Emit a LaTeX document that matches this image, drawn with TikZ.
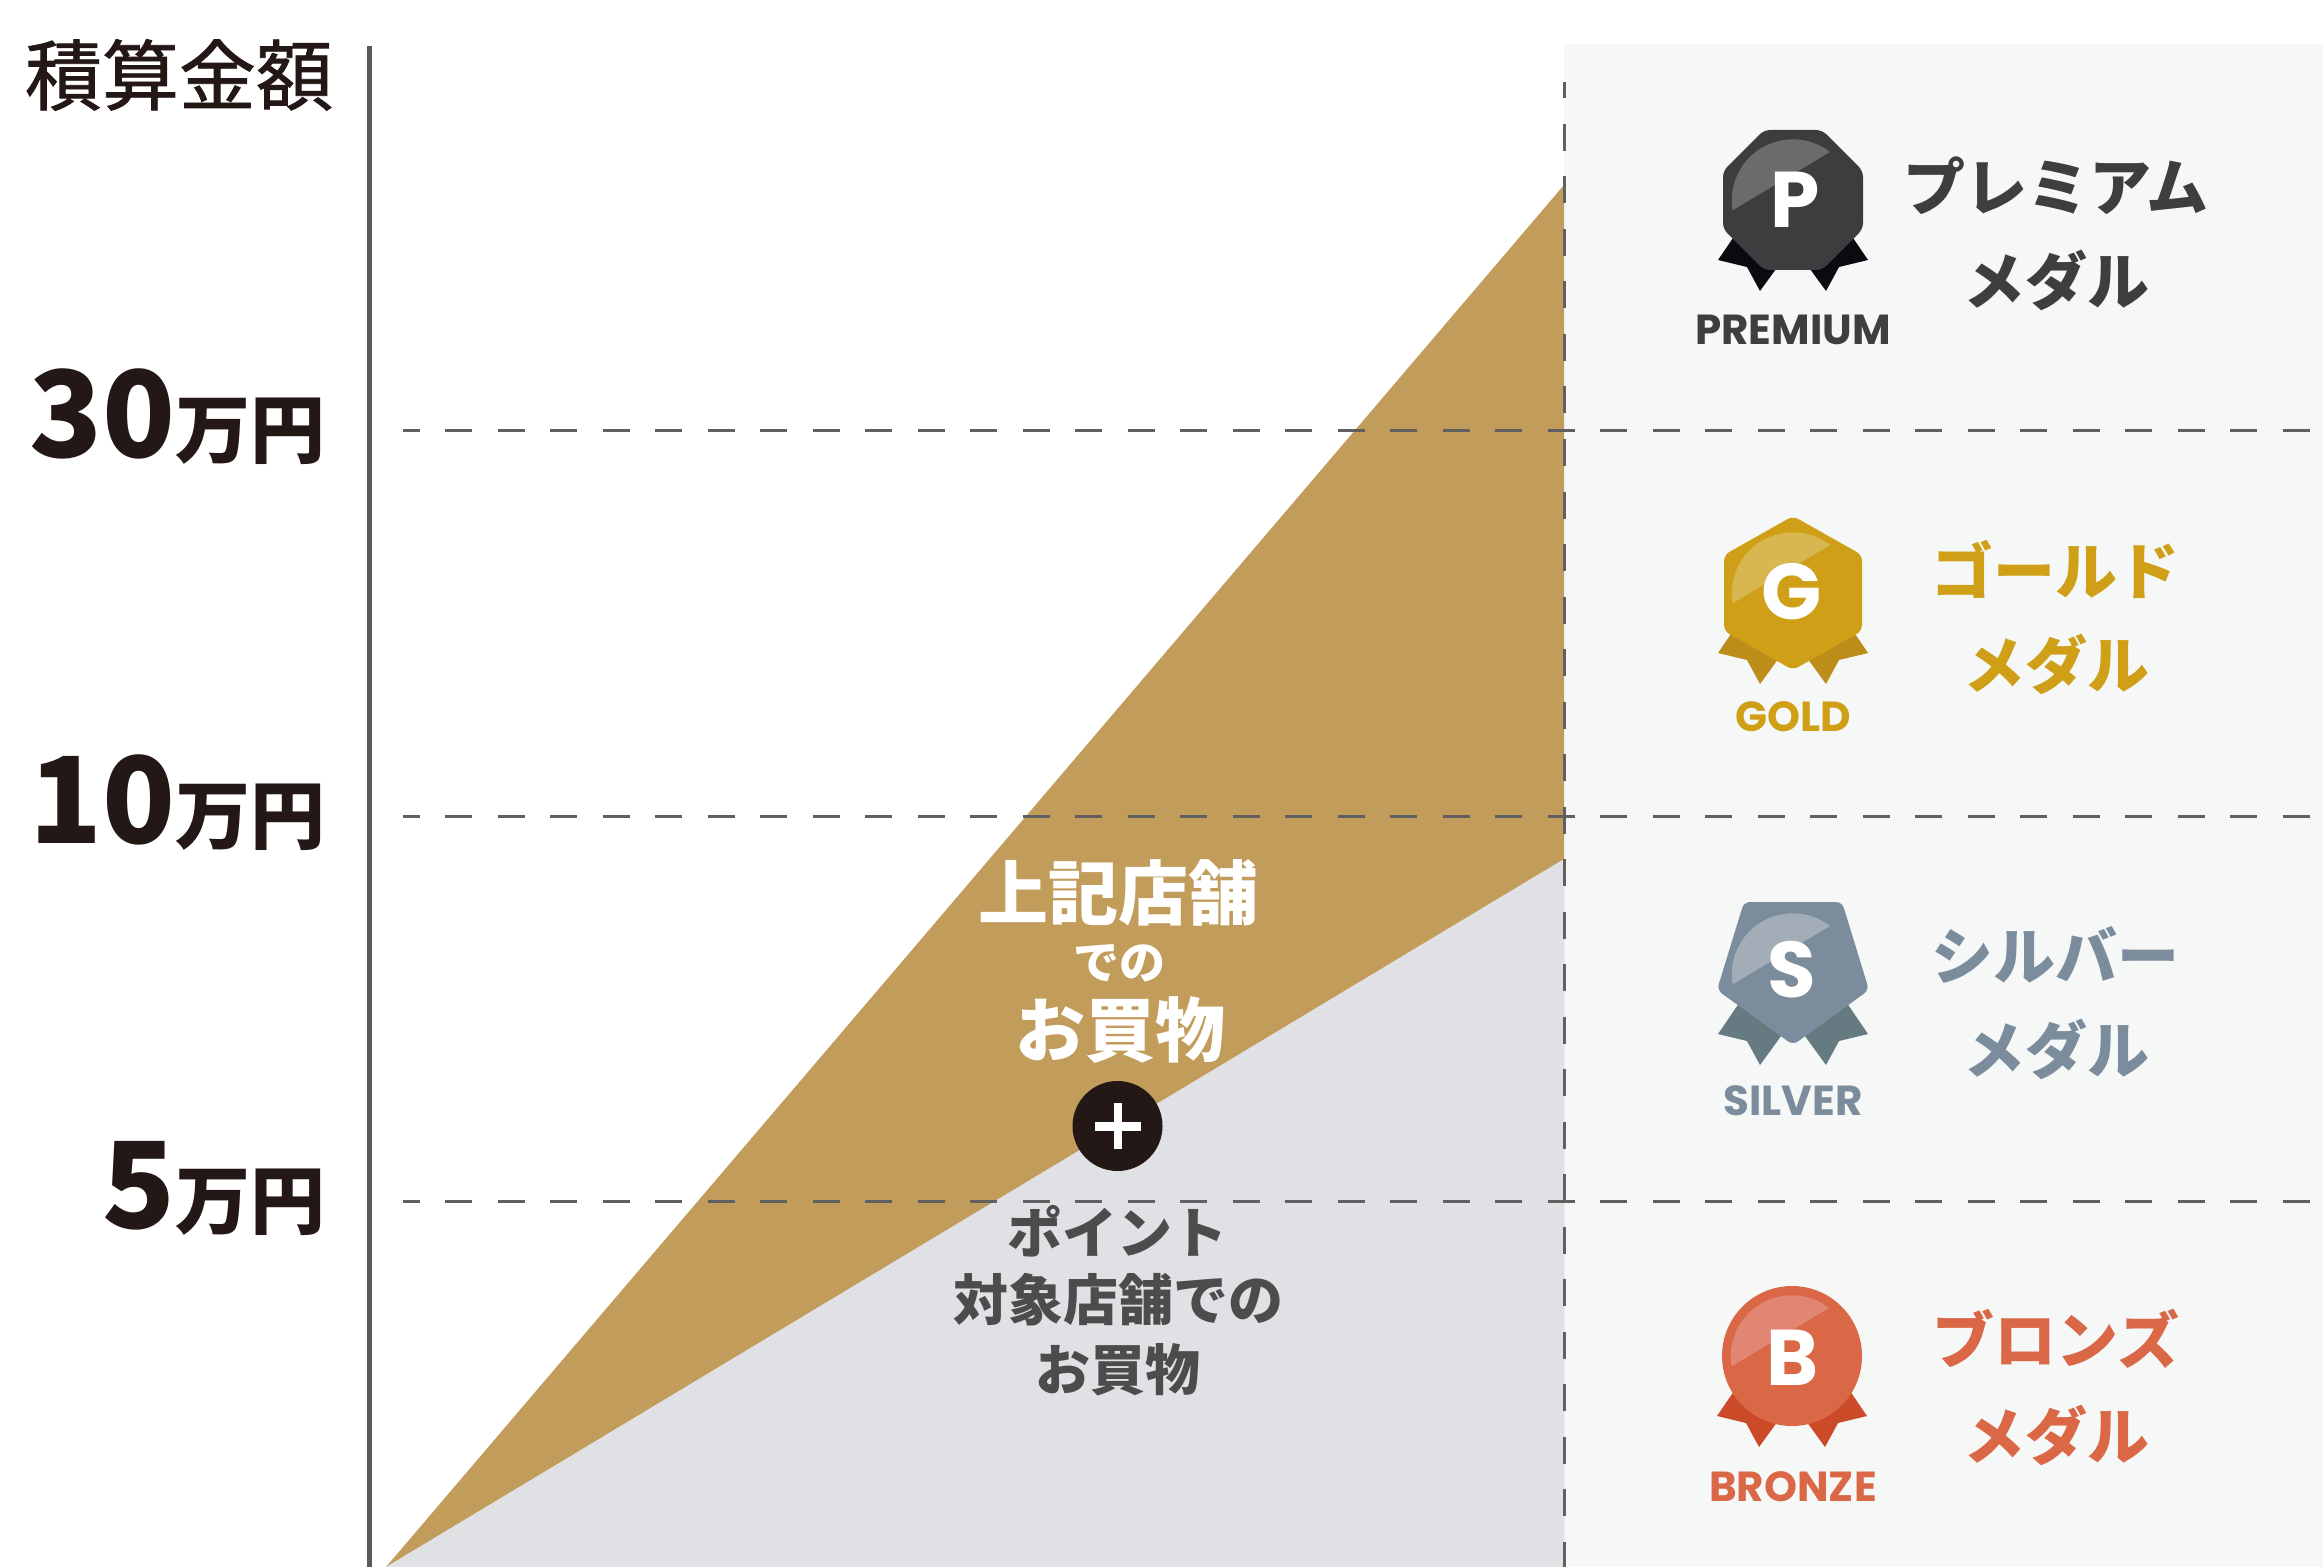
\documentclass[tikz,border=0pt]{standalone}
\usepackage{fontspec}
\newfontfamily\jp{Noto Sans CJK JP}
\newfontfamily\jpm{Noto Sans CJK JP}[FakeBold=1.0]
\newfontfamily\pop{Poppins}
\definecolor{ink}{HTML}{231815}
\definecolor{panelc}{HTML}{F6F7F7}
\definecolor{goldarea}{HTML}{C29C5A}
\definecolor{grayarea}{HTML}{E0E1E5}
\definecolor{axisc}{HTML}{5A5A5A}
\definecolor{dashc}{HTML}{606060}
\definecolor{lowtext}{HTML}{4D4B4B}
\definecolor{prem}{HTML}{3D3D3F}
\definecolor{premhi}{HTML}{6B6B6B}
\definecolor{premrib}{HTML}{0B0A10}
\definecolor{premtxt}{HTML}{3E3E3E}
\definecolor{gold}{HTML}{CFA017}
\definecolor{goldhi}{HTML}{D8B650}
\definecolor{goldrib}{HTML}{BC8D18}
\definecolor{silv}{HTML}{7B8C9C}
\definecolor{silvhi}{HTML}{A3ADB8}
\definecolor{silvrib}{HTML}{667A82}
\definecolor{bron}{HTML}{DA6846}
\definecolor{bronhi}{HTML}{E18673}
\definecolor{bronrib}{HTML}{CB4A28}
\newcommand\fsz[1]{\fontsize{#1}{#1}\selectfont}
\newcommand\myribbons[1]{%
  \fill[#1] (-45,-16) -- (-75,-60) -- (-46,-67) -- (-33,-91) -- (-1,-47) -- cycle;
  \fill[#1] (45,-16) -- (75,-60) -- (46,-67) -- (33,-91) -- (1,-47) -- cycle;}
\newcommand\myshine[1]{\fill[#1] (37,48) arc[start angle=52.4, end angle=189.4, radius=61] -- cycle;}
\tikzset{
  dashline/.style={draw=dashc, line width=1.5pt, dash pattern=on 13.5pt off 12.75pt, dash phase=5.25pt},
  txt/.style={inner sep=0pt, outer sep=0pt},
  medalletter/.style={txt, text=white, font=\pop\bfseries\fsz{39.5pt}},
  medallabel/.style={txt, font=\pop\bfseries\fsz{21pt}},
  medalname/.style={txt, font=\jp\bfseries\fsz{31pt}},
  uppertext/.style={txt, text=white, font=\jp\bfseries\fsz{35pt}},
  lowertext/.style={txt, text=lowtext, font=\jp\bfseries\fsz{27.5pt}},
  axislabel/.style={txt, text=ink, anchor=base east},
}
\begin{document}
\begin{tikzpicture}[x=0.5pt,y=0.5pt]
\useasboundingbox (0,0) rectangle (2323,-1567);
\fill[white] (0,0) rectangle (2323,-1567);
% right panel
\fill[panelc] (1564,-44) rectangle (2323,-1567);
% areas
\fill[goldarea] (386,-1567) -- (1564,-185) -- (1564,-1567) -- cycle;
\fill[grayarea] (386,-1567) -- (1564,-859) -- (1564,-1567) -- cycle;
% axis
\draw[axisc, line width=2.5pt] (369,-46) -- (369,-1567);
% dashed lines
\draw[dashline] (403,-431) -- (2323,-431);
\draw[dashline] (403,-816) -- (2323,-816);
\draw[dashline] (403,-1201) -- (2323,-1201);
\draw[dashline] (1564,-82) -- (1564,-1567);
% axis labels
\node[txt, text=ink, font=\jpm\fsz{38.5pt}] (title) at (179,-75) {積算金額};
\node[axislabel] (v30) at (326,-458) {\jp\bfseries\fsz{60pt}30\fsz{37.5pt}万円};
\node[axislabel] (v10) at (326,-843) {\jp\bfseries\fsz{60pt}10\fsz{37.5pt}万円};
\node[axislabel] (v5) at (326,-1228) {\jp\bfseries\fsz{60pt}5\fsz{37.5pt}万円};
% centre texts
\node[uppertext] (u1) at (1118,-893) {上記店舗};
\node[uppertext, font=\jp\bfseries\fsz{23pt}] (u2) at (1119,-963) {での};
\node[uppertext] (u3) at (1120,-1030) {お買物};
\node[circle, fill=ink, minimum size=45pt, inner sep=0pt] (plus) at (1117.5,-1126) {};
\fill[white] (1094.5,-1121.5) rectangle (1140.5,-1130.5);
\fill[white] (1113.5,-1103) rectangle (1121.5,-1149);
\node[lowertext] (l1) at (1117,-1231) {ポイント};
\node[lowertext] (l2) at (1118,-1300) {対象店舗での};
\node[lowertext] (l3) at (1118,-1370) {お買物};
% premium medal
\begin{scope}[shift={(1793,-200)}]
  \myribbons{premrib}
  \fill[prem, rounded corners=3pt] (-29,70) -- (29,70) -- (70,29) -- (70,-29) -- (29,-70) -- (-29,-70) -- (-70,-29) -- (-70,29) -- cycle;
  \myshine{premhi}
\end{scope}
\node[medalletter] (pm) at (1795,-200) {P};
\node[medallabel, text=premtxt] (pml) at (1793,-330) {PREMIUM};
\node[medalname, text=premtxt] (pmn1) at (2056,-186) {プレミアム};
\node[medalname, text=premtxt] (pmn2) at (2056,-280) {メダル};
% gold medal
\begin{scope}[shift={(1793,-593)}]
  \myribbons{goldrib}
  \fill[gold, rounded corners=3pt] (0,77) -- (69,38) -- (69,-38) -- (0,-77) -- (-69,-38) -- (-69,38) -- cycle;
  \myshine{goldhi}
\end{scope}
\node[medalletter] (gm) at (1792,-592) {G};
\node[medallabel, text=gold] (gml) at (1793,-717) {GOLD};
\node[medalname, text=gold] (gmn1) at (2055,-569) {ゴールド};
\node[medalname, text=gold] (gmn2) at (2056,-664) {メダル};
% silver medal
\begin{scope}[shift={(1793,-974)}]
  \myribbons{silvrib}
  \fill[silv, rounded corners=3pt] (-49,72) -- (49,72) -- (76,-16) -- (0,-71) -- (-76,-16) -- cycle;
  \myshine{silvhi}
\end{scope}
\node[medalletter] (sm) at (1792,-970) {S};
\node[medallabel, text=silv] (sml) at (1793,-1101) {SILVER};
\node[medalname, text=silv] (smn1) at (2055,-955) {シルバー};
\node[medalname, text=silv] (smn2) at (2056,-1049) {メダル};
% bronze medal
\begin{scope}[shift={(1792,-1356)}]
  \myribbons{bronrib}
  \fill[bron] (0,0) circle[radius=70];
  \myshine{bronhi}
\end{scope}
\node[medalletter] (bm) at (1793,-1358) {B};
\node[medallabel, text=bron] (bml) at (1793,-1487) {BRONZE};
\node[medalname, text=bron] (bmn1) at (2056,-1339) {ブロンズ};
\node[medalname, text=bron] (bmn2) at (2056,-1435) {メダル};
\end{tikzpicture}
\end{document}
